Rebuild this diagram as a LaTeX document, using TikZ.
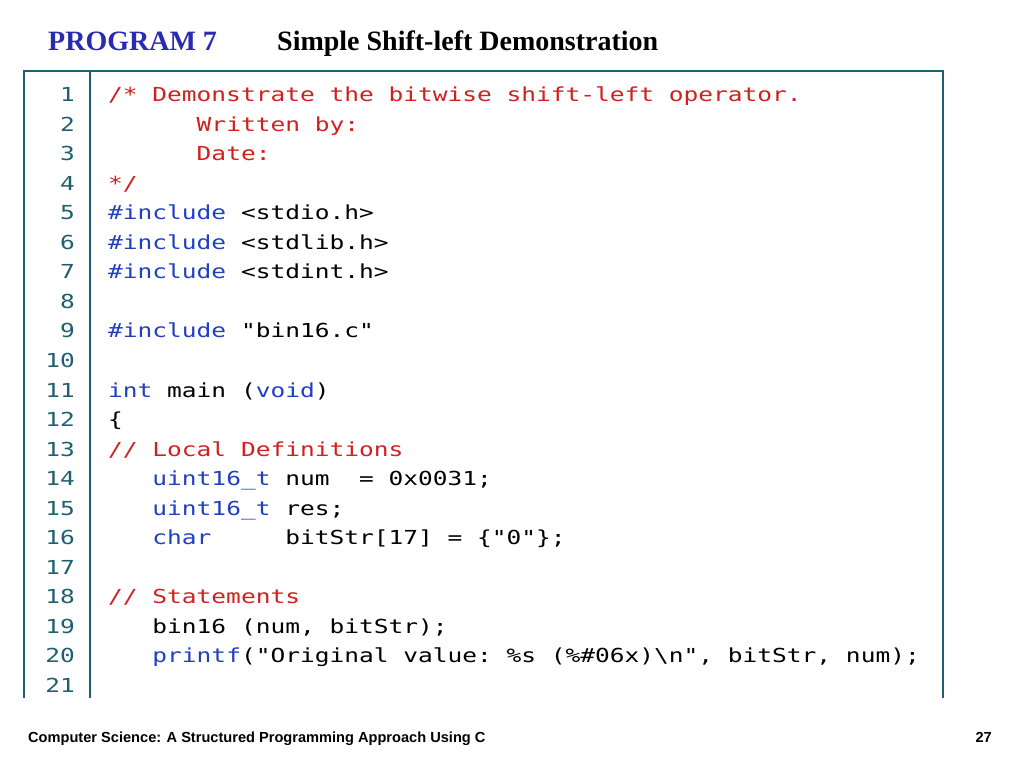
\documentclass[tikz,border=0pt]{standalone}
\usepackage{fontspec}
\setmainfont{Liberation Serif}
\newfontfamily\codefont[FakeStretch=1.27]{DejaVu Sans Mono}
\newfontfamily\footfont{Liberation Sans}
\definecolor{framec}{HTML}{1F5F6F}
\definecolor{kwc}{HTML}{2040C0}
\definecolor{cmc}{HTML}{D02020}
\definecolor{titleblue}{HTML}{2B2BB0}
\newcommand\kw[1]{\textcolor{kwc}{#1}}
\newcommand\cm[1]{\textcolor{cmc}{#1}}
\begin{document}
\begin{tikzpicture}[x=1pt,y=-1pt,
  code/.style={anchor=base west,inner sep=0,font=\codefont\fontsize{19.3}{22}\selectfont},
  lnum/.style={anchor=base east,inner sep=0,text=framec,font=\codefont\fontsize{19.3}{22}\selectfont},
  frame/.style={draw=framec,line width=1.6pt}]
\useasboundingbox (0,0) rectangle (1024,768);
\node[anchor=base west,inner sep=0,text=titleblue,font=\bfseries\fontsize{28}{30}\selectfont] (t1) at (48,50) {PROGRAM 7};
\node[anchor=base west,inner sep=0,font=\bfseries\fontsize{28}{30}\selectfont] (t2) at (277,50) {Simple Shift-left Demonstration};
\draw[frame] (24,698) -- (24,71) -- (943,71) -- (943,698);
\draw[frame] (90,71) -- (90,698);
\foreach \i in {1,...,21} {
  \node[lnum] (n\i) at (75,{101.5+(\i-1)*29.55}) {\i};
}
\def\Y#1{{101.5+(#1-1)*29.55}}
\node[code] (l1) at (108,\Y{1}) {\cm{/*~Demonstrate~the~bitwise~shift-left~operator.}};
\node[code] (l2) at (108,\Y{2}) {\cm{~~~~~~Written~by:}};
\node[code] (l3) at (108,\Y{3}) {\cm{~~~~~~Date:}};
\node[code] (l4) at (108,\Y{4}) {\cm{*/}};
\node[code] (l5) at (108,\Y{5}) {\kw{\#include}~<stdio.h>};
\node[code] (l6) at (108,\Y{6}) {\kw{\#include}~<stdlib.h>};
\node[code] (l7) at (108,\Y{7}) {\kw{\#include}~<stdint.h>};
\node[code] (l9) at (108,\Y{9}) {\kw{\#include}~"bin16.c"};
\node[code] (l11) at (108,\Y{11}) {\kw{int}~main~(\kw{void})};
\node[code] (l12) at (108,\Y{12}) {\{};
\node[code] (l13) at (108,\Y{13}) {\cm{//~Local~Definitions}};
\node[code] (l14) at (108,\Y{14}) {~~~\kw{uint16\_t}~num~~=~0x0031;};
\node[code] (l15) at (108,\Y{15}) {~~~\kw{uint16\_t}~res;};
\node[code] (l16) at (108,\Y{16}) {~~~\kw{char}~~~~~bitStr[17]~=~\{"0"\};};
\node[code] (l18) at (108,\Y{18}) {\cm{//~Statements}};
\node[code] (l19) at (108,\Y{19}) {~~~bin16~(num,~bitStr);};
\node[code] (l20) at (108,\Y{20}) {~~~\kw{printf}("Original~value:~\%s~(\%\#06x)\textbackslash n",~bitStr,~num);};
\node[anchor=base west,inner sep=0,font=\footfont\bfseries\fontsize{14.6}{16}\selectfont] (f1) at (28,742) {Computer Science: A Structured Programming Approach Using C};
\node[anchor=base east,inner sep=0,font=\footfont\bfseries\fontsize{14.6}{16}\selectfont] (f2) at (992,742) {27};
\end{tikzpicture}
\end{document}
